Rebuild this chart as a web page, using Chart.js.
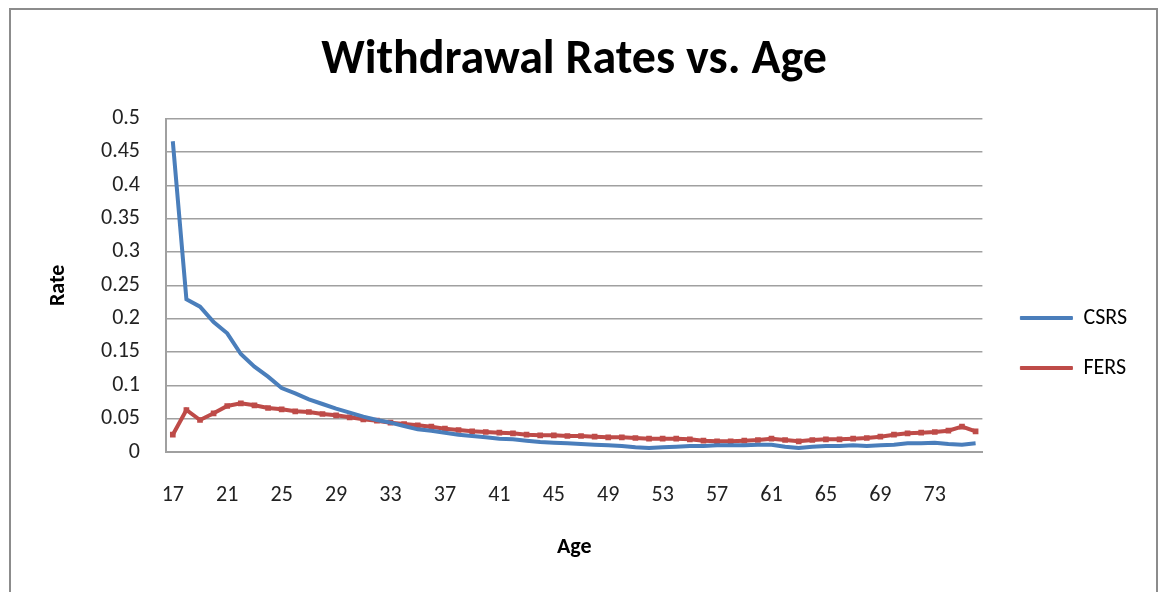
<!DOCTYPE html>
<html>
<head>
<meta charset="utf-8">
<script src="https://cdn.jsdelivr.net/npm/chart.js@4/dist/chart.umd.min.js"></script>
<style>
    body { margin: 0; background: #fff; }
    #caixa {
        position: absolute; left: 9px; top: 8px;
        width: 1149px; height: 600px;
        border: 2px solid #8c8c8c; box-sizing: border-box;
    }
    #graficoTaxas { display: block; }
</style>
</head>
<body>
<div id="caixa"><canvas id="graficoTaxas" width="1145" height="596"></canvas></div>
<script>
// Dados (idades 17 a 76)
var idades = []
for (var i = 17; i <= 76; i++) idades.push(String(i))

var taxasCSRS = [0.466, 0.229, 0.218, 0.195, 0.178, 0.147, 0.128, 0.113, 0.096, 0.088,
    0.079, 0.072, 0.065, 0.059, 0.053, 0.048, 0.044, 0.039, 0.034, 0.032,
    0.029, 0.026, 0.024, 0.022, 0.020, 0.019, 0.017, 0.015, 0.014, 0.013,
    0.012, 0.011, 0.010, 0.009, 0.007, 0.006, 0.007, 0.008, 0.009, 0.009,
    0.010, 0.010, 0.010, 0.011, 0.011, 0.008, 0.006, 0.008, 0.009, 0.009,
    0.010, 0.009, 0.010, 0.011, 0.013, 0.013, 0.014, 0.012, 0.011, 0.013]

var taxasFERS = [0.026, 0.063, 0.048, 0.058, 0.069, 0.073, 0.070, 0.066, 0.064, 0.061,
    0.060, 0.057, 0.055, 0.052, 0.049, 0.047, 0.044, 0.042, 0.040, 0.038,
    0.035, 0.033, 0.031, 0.030, 0.029, 0.028, 0.026, 0.025, 0.025, 0.024,
    0.024, 0.023, 0.022, 0.022, 0.021, 0.020, 0.020, 0.020, 0.019, 0.017,
    0.016, 0.016, 0.017, 0.018, 0.020, 0.018, 0.016, 0.018, 0.019, 0.019,
    0.020, 0.021, 0.023, 0.026, 0.028, 0.029, 0.030, 0.032, 0.038, 0.031]

var fonte = "Calibri, Carlito, Lato, 'Noto Sans', sans-serif"
var cinza = '#a0a0a0'

var ctx = document.getElementById('graficoTaxas');
createTaxas(ctx)

function createTaxas(ctx) {

    graficoTaxas = new Chart(ctx, {
        type: 'line',
        data: {
            labels: idades,
            datasets: [{
                label: 'CSRS',
                data: taxasCSRS,
                borderColor: '#4a7ebb',
                backgroundColor: '#4a7ebb',
                borderWidth: 4,
                pointRadius: 0,
                tension: 0
            }, {
                label: 'FERS',
                data: taxasFERS,
                borderColor: '#be4b48',
                backgroundColor: '#be4b48',
                borderWidth: 4,
                pointStyle: 'rect',
                pointRadius: 4,
                pointBorderWidth: 0,
                tension: 0
            }]
        },
        options: {
            responsive: false,
            animation: false,
            layout: {
                padding: { left: 0, right: 19, top: 0, bottom: 45 }
            },
            plugins: {
                title: {
                    display: true,
                    text: 'Withdrawal Rates vs. Age',
                    color: '#000',
                    font: { family: fonte, size: 48, weight: 'bold' },
                    padding: { top: 22, bottom: 29 }
                },
                legend: {
                    position: 'right',
                    title: {
                        display: true,
                        text: ' ',
                        padding: { top: 0, bottom: 103 },
                        font: { size: 10 }
                    },
                    labels: {
                        boxWidth: 52,
                        boxHeight: 3,
                        padding: 28,
                        color: '#000',
                        font: { family: fonte, size: 22 },
                        generateLabels: function (chart) {
                            var itens = Chart.defaults.plugins.legend.labels.generateLabels(chart)
                            itens.forEach(function (it) { it.lineWidth = 1 })
                            return itens
                        }
                    }
                },
                tooltip: { enabled: false }
            },
            scales: {
                x: {
                    offset: true,
                    afterFit: function (escala) { escala.height = 109 },
                    grid: { display: false, drawTicks: false },
                    border: { color: cinza, width: 2 },
                    ticks: {
                        autoSkip: false,
                        maxRotation: 0,
                        padding: 30,
                        color: '#222',
                        font: { family: fonte, size: 22 },
                        callback: function (v, i) {
                            return i % 4 == 0 ? idades[i] : ''
                        }
                    },
                    title: {
                        display: true,
                        text: 'Age',
                        color: '#000',
                        font: { family: fonte, size: 22, weight: 'bold' },
                        padding: { top: 26, bottom: 0 }
                    }
                },
                y: {
                    min: 0,
                    max: 0.5,
                    afterFit: function (escala) { escala.width = 155 },
                    grid: { color: cinza, lineWidth: 1.5, drawTicks: false },
                    border: { color: cinza, width: 2 },
                    ticks: {
                        stepSize: 0.05,
                        padding: 26,
                        color: '#222',
                        font: { family: fonte, size: 22 },
                        callback: function (v) {
                            return String(+v.toFixed(2))
                        }
                    },
                    title: {
                        display: true,
                        text: 'Rate',
                        color: '#000',
                        font: { family: fonte, size: 22, weight: 'bold' },
                        padding: { top: 34, bottom: 0 }
                    }
                },
                // eixo vazio só para dar espaço antes da legenda
                espaco: {
                    type: 'linear',
                    position: 'right',
                    afterFit: function (escala) { escala.width = 10 },
                    grid: { display: false },
                    border: { display: false },
                    ticks: { display: false }
                }
            }
        }
    });
}
</script>
</body>
</html>
